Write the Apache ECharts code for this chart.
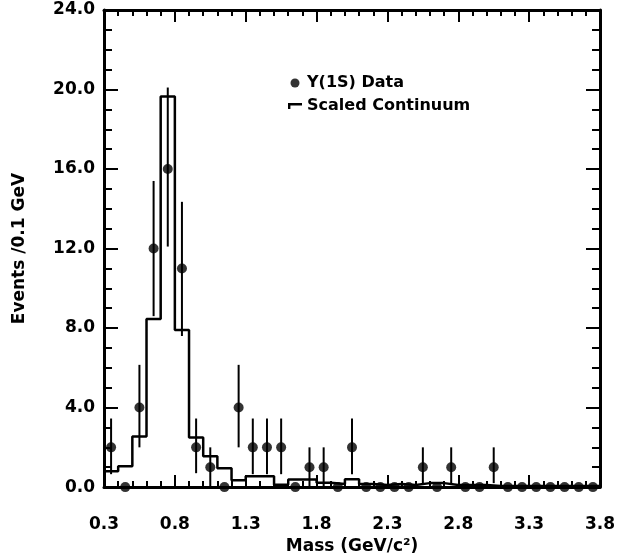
<!DOCTYPE html>
<html>
<head>
<meta charset="utf-8">
<script src="https://cdn.jsdelivr.net/npm/echarts@6/dist/echarts.min.js"></script>
<style>
html,body{margin:0;padding:0;background:#fff;}
#chart{width:621px;height:560px;}
</style>
</head>
<body>
<div id="chart"></div>
<script>
// ---- data ----
const massCenters = [0.35,0.45,0.55,0.65,0.75,0.85,0.95,1.05,1.15,1.25,1.35,1.45,1.55,1.65,1.75,1.85,1.95,2.05,2.15,2.25,2.35,2.45,2.55,2.65,2.75,2.85,2.95,3.05,3.15,3.25,3.35,3.45,3.55,3.65,3.75];
const dataCounts  = [2,0,4,12,16,11,2,1,0,4,2,2,2,0,1,1,0,2,0,0,0,0,1,0,1,0,0,1,0,0,0,0,0,0,0];
const errUp       = [1.45,0,2.15,3.4,4.1,3.35,1.45,1.0,0,2.15,1.45,1.45,1.45,0,1.0,1.0,0,1.45,0,0,0,0,1.0,0,1.0,0,0,1.0,0,0,0,0,0,0,0];
const errDown     = [1.35,0,2.0,3.4,3.9,3.4,1.3,0.95,0,2.0,1.35,1.35,1.35,0,0.95,0.95,0,1.35,0,0,0,0,0.8,0,0.8,0,0,0.8,0,0,0,0,0,0,0];
const binEdges    = [0.3,0.4,0.5,0.6,0.7,0.8,0.9,1.0,1.1,1.2,1.3,1.4,1.5,1.6,1.7,1.8,1.9,2.0,2.1,2.2,2.3,2.4,2.5,2.6,2.7,2.8,2.9,3.0,3.1,3.2,3.3,3.4,3.5,3.6,3.7,3.8];
const continuum   = [0.8,1.05,2.55,8.45,19.65,7.9,2.5,1.55,0.95,0.35,0.55,0.55,0.12,0.38,0.38,0.22,0.15,0.4,0.15,0.1,0.15,0.1,0.2,0.2,0.1,0.1,0.1,0.06,0.06,0.06,0.06,0.06,0.06,0.06,0.06];
const xTickLabels = ['0.3','0.8','1.3','1.8','2.3','2.8','3.3','3.8'];
const yTickLabels = ['0.0','4.0','8.0','12.0','16.0','20.0','24.0'];
const legendNames = ['\u03A5(1S) Data','Scaled Continuum'];
const xAxisTitle = 'Mass (GeV/c\u00B2)';
const yAxisTitle = 'Events /0.1 GeV';

// the x axis is drawn in an offset coordinate so ticks start exactly at 0.3
const X0 = 0.3;
const FONT = 'DejaVu Sans';
const INK = '#000';

const pointData = massCenters.map((m,i)=>[m - X0, dataCounts[i]]);
const errData = massCenters.map((m,i)=>[m - X0, dataCounts[i] - errDown[i], dataCounts[i] + errUp[i]]);
const histData = binEdges.map((e,i)=>[e - X0, continuum[Math.min(i, continuum.length-1)]]);

function xAxisCfg(pos, showLabels){
  return {
    type:'value', position:pos, min:0, max:3.5, interval:0.5,
    axisLine:{show:true, onZero:false, lineStyle:{color:INK, width:3}},
    axisTick:{show:true, inside:true, length:12, lineStyle:{color:INK, width:2}},
    minorTick:{show:true, splitNumber:5, length:6, lineStyle:{color:INK, width:2}},
    splitLine:{show:false},
    axisLabel:{show:showLabels, margin:29, fontFamily:FONT, fontWeight:'bold', fontSize:17, color:INK,
      formatter:(v)=>{ const idx = Math.round(v/0.5); return xTickLabels[idx] !== undefined ? xTickLabels[idx] : ''; }},
    name: showLabels ? xAxisTitle : '',
    nameLocation:'middle', nameGap:49,
    nameTextStyle:{fontFamily:FONT, fontWeight:'bold', fontSize:17, color:INK}
  };
}
function yAxisCfg(pos, showLabels){
  return {
    type:'value', position:pos, min:0, max:24, interval:4,
    axisLine:{show:true, onZero:false, lineStyle:{color:INK, width:3}},
    axisTick:{show:true, inside:true, length:14, lineStyle:{color:INK, width:2}},
    minorTick:{show:true, splitNumber:4, length:8, lineStyle:{color:INK, width:2}},
    splitLine:{show:false},
    axisLabel:{show:showLabels, margin:9, fontFamily:FONT, fontWeight:'bold', fontSize:17, color:INK,
      formatter:(v)=>{ const idx = Math.round(v/4); return yTickLabels[idx] !== undefined ? yTickLabels[idx] : ''; }},
    name: showLabels ? yAxisTitle : '',
    nameLocation:'middle', nameGap:76, nameRotate:90,
    nameTextStyle:{fontFamily:FONT, fontWeight:'bold', fontSize:17, color:INK}
  };
}

const chart = echarts.init(document.getElementById('chart'), null, {renderer:'canvas'});
chart.setOption({
  backgroundColor:'#fff',
  animation:false,
  grid:{left:104, right:21, top:10, bottom:72, containLabel:false},
  xAxis:[xAxisCfg('bottom', true), xAxisCfg('top', false)],
  yAxis:[yAxisCfg('left', true), yAxisCfg('right', false)],
  legend:{
    orient:'vertical', left:283, top:69, itemGap:5, itemWidth:14, itemHeight:9,
    textStyle:{fontFamily:FONT, fontWeight:'bold', fontSize:16, color:INK, lineHeight:18},
    data:[
      {name:legendNames[0], icon:'circle'},
      {name:legendNames[1], icon:'path://M0,0 H14 V2.4 H2.4 V6 H0 Z'}
    ]
  },
  series:[
    {
      name:legendNames[1], type:'line', step:'end', data:histData,
      xAxisIndex:0, yAxisIndex:0, symbol:'none', clip:false,
      lineStyle:{color:INK, width:2.5}, itemStyle:{color:INK}, z:2
    },
    {
      name:'errors', type:'custom', data:errData, xAxisIndex:0, yAxisIndex:0, clip:false,
      renderItem:(params, api)=>{
        const lo = api.coord([api.value(0), api.value(1)]);
        const hi = api.coord([api.value(0), api.value(2)]);
        return {type:'line', shape:{x1:lo[0], y1:lo[1], x2:hi[0], y2:hi[1]},
          style:{stroke:INK, lineWidth:2}};
      },
      z:3
    },
    {
      name:legendNames[0], type:'scatter', data:pointData, xAxisIndex:0, yAxisIndex:0,
      symbol:'circle', symbolSize:10, clip:false,
      itemStyle:{color:INK}, z:4
    }
  ]
});
</script>
</body>
</html>
